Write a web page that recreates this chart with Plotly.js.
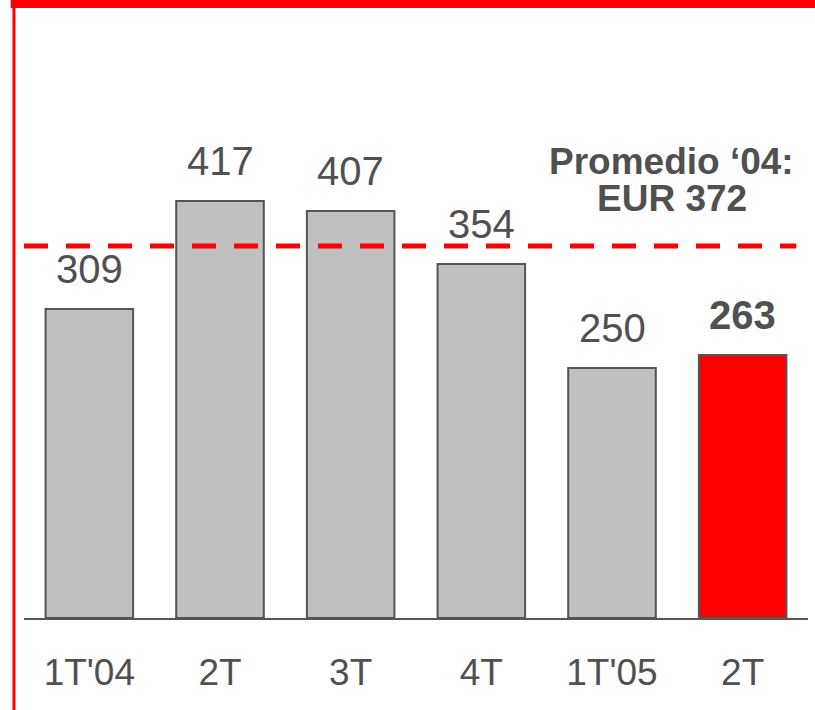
<!DOCTYPE html>
<html>
<head>
<meta charset="utf-8">
<script src="https://cdn.plot.ly/plotly-3.0.1.min.js"></script>
<style>html,body{margin:0;padding:0;background:#fff;}#chart{width:815px;height:710px;}</style>
</head>
<body>
<div id="chart"></div>
<script>
const categories = ["1T'04", "2T", "3T", "4T", "1T'05", "2T"];
const values = [309, 417, 407, 354, 250, 263];
const highlight = [false, false, false, false, false, true];
const average2004 = 372;
const averageLabel = ["Promedio \u201804:", "EUR 372"];

const xs = categories.map((c, i) => i);
const gray = "#c0c0c0", red = "#ff0000", dark = "#505050";
const fam = "Liberation Sans, Arial, sans-serif";

const trace = {
  type: "bar",
  x: xs,
  y: values,
  marker: {
    color: highlight.map(h => h ? red : gray),
    line: {color: "#555555", width: 2}
  },
  hoverinfo: "none"
};

const annotations = values.map((v, i) => ({
  x: i, y: v, xref: "x", yref: "y",
  text: highlight[i] ? "<b>" + v + "</b>" : String(v),
  showarrow: false, yanchor: "middle", yshift: 40,
  font: {family: fam, size: 40, color: dark}
}));
averageLabel.forEach((line, k) => {
  annotations.push({
    x: 0.826, y: average2004, xref: "paper", yref: "y",
    text: "<b>" + line + "</b>",
    showarrow: false, xanchor: "center", yanchor: "middle", yshift: 85 - 37 * k,
    font: {family: fam, size: 37, color: dark}
  });
});

const layout = {
  width: 815, height: 710,
  margin: {l: 24, r: 7, t: 8, b: 92, pad: 0},
  paper_bgcolor: "#ffffff", plot_bgcolor: "#ffffff",
  showlegend: false,
  bargap: 0.33,
  xaxis: {
    tickmode: "array", tickvals: xs, ticktext: categories,
    range: [-0.5, 5.5],
    showgrid: false, zeroline: false,
    showline: true, linecolor: "#555555", linewidth: 2,
    ticks: "outside", ticklen: 21, tickcolor: "rgba(0,0,0,0)",
    tickfont: {family: fam, size: 37, color: dark}
  },
  yaxis: {visible: false, range: [0, 610], fixedrange: true},
  shapes: [
    {type: "line", xref: "paper", yref: "y", x0: 0, x1: 0.985, y0: average2004, y1: average2004,
     line: {color: red, width: 5, dash: "24px,18px"}},
    {type: "rect", xref: "paper", yref: "paper", x0: -0.017, x1: 1.02, y0: 1.0, y1: 1.015,
     fillcolor: red, line: {width: 0}},
    {type: "line", xref: "paper", yref: "paper", x0: -0.0128, x1: -0.0128, y0: -0.16, y1: 1.01,
     line: {color: red, width: 3}}
  ],
  annotations: annotations
};

Plotly.newPlot("chart", [trace], layout, {displayModeBar: false, staticPlot: true});
</script>
</body>
</html>
